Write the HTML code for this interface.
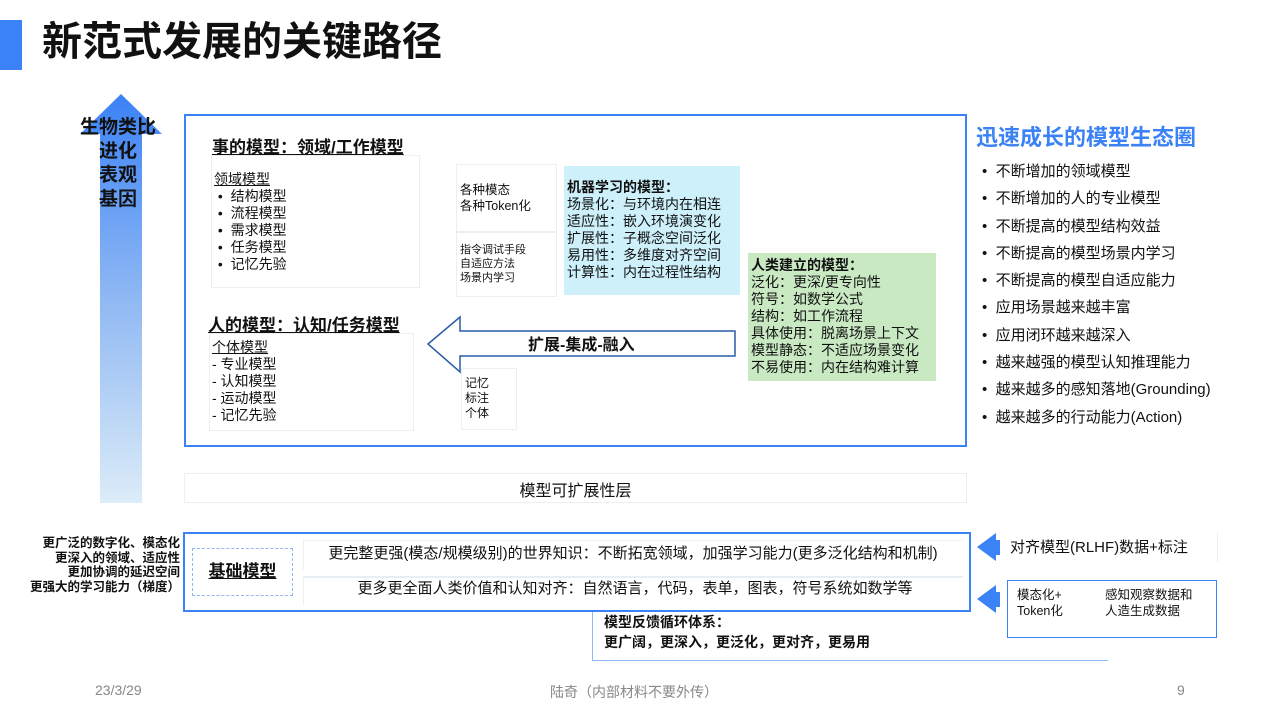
<!DOCTYPE html>
<html><head><meta charset="utf-8"><style>
body{margin:0;width:1280px;height:720px;position:relative;background:#fff;font-family:"Liberation Sans","Noto Sans CJK SC",sans-serif;color:#111;overflow:hidden}
.a{position:absolute;white-space:nowrap}
.bx{position:absolute;box-sizing:border-box}
.t12{font-size:12px;line-height:15px}
</style></head><body>
<div class="bx" style="left:0;top:20px;width:22px;height:50px;background:#3b82f6"></div>
<div class="a" style="left:42px;top:18px;font-size:40px;font-weight:bold;line-height:48px">新范式发展的关键路径</div>

<svg class="a" style="left:78px;top:94px" width="86" height="410">
<defs><linearGradient id="g" x1="0" y1="0" x2="0" y2="1"><stop offset="0" stop-color="#3b82f6"/><stop offset="0.5" stop-color="#8fb8f3"/><stop offset="1" stop-color="#dcecf8"/></linearGradient></defs>
<polygon points="43,0 84,40 64,40 64,409 22,409 22,40 2,40" fill="url(#g)"/>
</svg>
<div class="a" style="left:76px;top:116px;width:84px;text-align:center;font-size:19px;font-weight:bold;line-height:24px">生物类比<br>进化<br>表观<br>基因</div>

<div class="bx" style="left:184px;top:114px;width:783px;height:333px;border:2px solid #3b82f6"></div>
<div class="a" style="left:212px;top:133px;font-size:17px;font-weight:bold;text-decoration:underline">事的模型：领域/工作模型</div>
<div class="bx" style="left:211px;top:155px;width:209px;height:133px;border:1px solid #eee"></div>
<div class="a" style="left:214px;top:171px;font-size:14px;line-height:17px"><u>领域模型</u><br>&nbsp;•&nbsp; 结构模型<br>&nbsp;•&nbsp; 流程模型<br>&nbsp;•&nbsp; 需求模型<br>&nbsp;•&nbsp; 任务模型<br>&nbsp;•&nbsp; 记忆先验</div>

<div class="bx" style="left:456px;top:164px;width:101px;height:68px;border:1px solid #eee"></div>
<div class="a t12" style="left:460px;top:182px;font-size:12.5px;line-height:16px">各种模态<br>各种Token化</div>
<div class="bx" style="left:456px;top:232px;width:101px;height:65px;border:1px solid #eee"></div>
<div class="a" style="left:460px;top:243px;font-size:11px;line-height:14px">指令调试手段<br>自适应方法<br>场景内学习</div>

<div class="bx" style="left:564px;top:166px;width:176px;height:129px;background:#cdf0fb"></div>
<div class="a" style="left:567px;top:179px;font-size:14px;line-height:17px"><b>机器学习的模型：</b><br>场景化：与环境内在相连<br>适应性：嵌入环境演变化<br>扩展性：子概念空间泛化<br>易用性：多维度对齐空间<br>计算性：内在过程性结构</div>

<div class="bx" style="left:748px;top:253px;width:188px;height:128px;background:#c9e9c3"></div>
<div class="a" style="left:751px;top:257px;font-size:14px;line-height:17px"><b>人类建立的模型：</b><br>泛化：更深/更专向性<br>符号：如数学公式<br>结构：如工作流程<br>具体使用：脱离场景上下文<br>模型静态：不适应场景变化<br>不易使用：内在结构难计算</div>

<div class="a" style="left:208px;top:311px;font-size:17px;font-weight:bold;text-decoration:underline">人的模型：认知/任务模型</div>
<div class="bx" style="left:209px;top:333px;width:205px;height:98px;border:1px solid #eee"></div>
<div class="a" style="left:212px;top:339px;font-size:14px;line-height:17px"><u>个体模型</u><br>- 专业模型<br>- 认知模型<br>- 运动模型<br>- 记忆先验</div>

<svg class="a" style="left:425px;top:315px" width="312" height="60">
<polygon points="3,29 35,2 35,16 310,16 310,41 35,41 35,57" fill="#fff" stroke="#2a5da8" stroke-width="1.5"/>
</svg>
<div class="a" style="left:528px;top:331px;font-size:16px;font-weight:bold">扩展-集成-融入</div>
<div class="bx" style="left:461px;top:368px;width:56px;height:62px;border:1px solid #eee"></div>
<div class="a" style="left:465px;top:376px;font-size:12px;line-height:15px">记忆<br>标注<br>个体</div>

<div class="a" style="left:976px;top:120px;font-size:22px;font-weight:bold;color:#3b82f6">迅速成长的模型生态圈</div>
<div class="a" style="left:982px;top:158px;font-size:15px;line-height:27.3px">
• &nbsp;不断增加的领域模型<br>• &nbsp;不断增加的人的专业模型<br>• &nbsp;不断提高的模型结构效益<br>• &nbsp;不断提高的模型场景内学习<br>• &nbsp;不断提高的模型自适应能力<br>• &nbsp;应用场景越来越丰富<br>• &nbsp;应用闭环越来越深入<br>• &nbsp;越来越强的模型认知推理能力<br>• &nbsp;越来越多的感知落地(Grounding)<br>• &nbsp;越来越多的行动能力(Action)</div>

<div class="bx" style="left:184px;top:473px;width:783px;height:30px;border:1px solid #eee"></div>
<div class="a" style="left:184px;top:477px;width:783px;text-align:center;font-size:16px">模型可扩展性层</div>

<div class="a" style="left:18px;top:536px;width:162px;text-align:right;font-size:12.5px;font-weight:bold;line-height:14.5px">更广泛的数字化、模态化<br>更深入的领域、适应性<br>更加协调的延迟空间<br>更强大的学习能力（梯度）</div>
<div class="bx" style="left:183px;top:532px;width:788px;height:80px;border:2px solid #3b82f6"></div>
<div class="bx" style="left:192px;top:548px;width:101px;height:48px;border:1px dashed #8fb8f3"></div>
<div class="a" style="left:192px;top:557px;width:101px;text-align:center;font-size:17px;font-weight:bold;text-decoration:underline">基础模型</div>
<div class="bx" style="left:303px;top:540px;width:660px;height:30px;border-left:1px solid #eee;border-top:1px solid #f2f2f2"></div>
<div class="a" style="left:303px;top:542px;width:660px;text-align:center;font-size:15px">更完整更强(模态/规模级别)的世界知识：不断拓宽领域，加强学习能力(更多泛化结构和机制)</div>
<div class="bx" style="left:303px;top:576px;width:660px;height:29px;border-left:1px solid #eee;border-top:2px solid #e8eef3"></div>
<div class="a" style="left:303px;top:577px;width:664px;text-align:center;font-size:15px">更多更全面人类价值和认知对齐：自然语言，代码，表单，图表，符号系统如数学等</div>

<div class="a" style="left:604px;top:612px;font-size:14px;font-weight:bold;line-height:20px">模型反馈循环体系：<br>更广阔，更深入，更泛化，更对齐，更易用</div>
<div class="bx" style="left:592px;top:612px;width:516px;height:49px;border-left:1px solid #8fb8f3;border-bottom:1px solid #8fb8f3"></div>

<svg class="a" style="left:974px;top:531px" width="28" height="86">
<polygon points="3,16 22,2 22,9 26,9 26,24 22,24 22,30" fill="#3b82f6"/>
<polygon points="3,68 22,54 22,61 26,61 26,76 22,76 22,82" fill="#3b82f6"/>
</svg>
<div class="bx" style="left:1007px;top:532px;width:211px;height:30px;border-right:1px solid #eee"></div>
<div class="a" style="left:1010px;top:536px;font-size:15px">对齐模型(RLHF)数据+标注</div>
<div class="bx" style="left:1007px;top:580px;width:210px;height:58px;border:1.5px solid #3b82f6"></div>
<div class="a" style="left:1017px;top:587px;font-size:12.5px;line-height:16px">模态化+<br>Token化</div>
<div class="a" style="left:1105px;top:587px;font-size:12.5px;line-height:16px">感知观察数据和<br>人造生成数据</div>

<div class="a" style="left:95px;top:682px;font-size:14px;color:#888">23/3/29</div>
<div class="a" style="left:550px;top:682px;font-size:14px;color:#888">陆奇（内部材料不要外传）</div>
<div class="a" style="left:1177px;top:682px;font-size:14px;color:#888">9</div>
</body></html>
